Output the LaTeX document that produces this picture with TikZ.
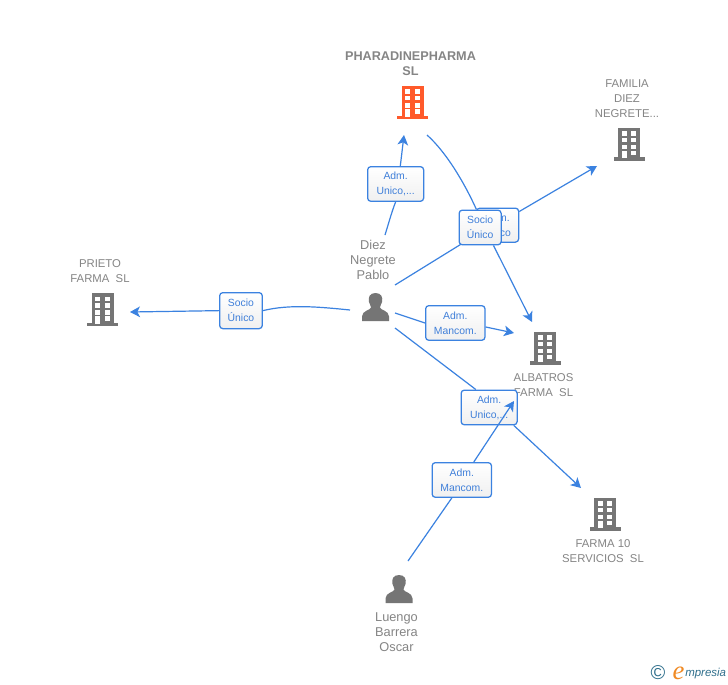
\documentclass[tikz,border=0pt]{standalone}
\usepackage{fontspec}
\setmainfont{Liberation Sans}
\newfontfamily\logoserif{Liberation Serif}
\usetikzlibrary{arrows.meta,shadings}
\definecolor{lnk}{HTML}{3B82E0}
\definecolor{lbl}{HTML}{3F7FD9}
\definecolor{nm}{HTML}{858585}
\definecolor{ico}{HTML}{757575}
\definecolor{org}{HTML}{FF5A2B}
\definecolor{teal}{HTML}{2F6F8C}
\definecolor{eor}{HTML}{F08A24}
\tikzset{
 x=0.75pt,y=-0.75pt,
 conn/.style={draw=lnk,line width=0.9pt},
 arr/.style={conn,-{Stealth[length=7.5pt,width=8pt,inset=2pt]}},
 tag/.style={draw=lnk,line width=0.95pt,rounded corners=2.4pt,top color=white,bottom color=white!94!black,
   text=lbl,font=\fontsize{7.8}{11.25}\selectfont,align=center,inner sep=0pt,anchor=north west},
 nametext/.style={text=nm,font=\fontsize{8.5}{11.25}\selectfont,align=center,inner sep=0pt},
 persontext/.style={nametext,font=\fontsize{9.6}{11.25}\selectfont},
 building/.pic={
   \fill[pic actions] (-11,-16.5) rectangle (11,14);
   \fill[pic actions] (-15.5,13) rectangle (15.5,16.5);
   \foreach \yy in {-13,-6.5,0.5}{
     \fill[white] (-7.5,\yy) rectangle (-2.5,\yy+4.5);
     \fill[white] (2,\yy) rectangle (7,\yy+4.5);}
   \fill[white] (-7.5,6.5) rectangle (-2.5,14);
   \fill[white] (2,6.5) rectangle (7,11);
 },
 person/.pic={
   \fill[pic actions] (0,-14.5) .. controls (6,-14.5) and (7.5,-10) .. (6.5,-5.5)
      .. controls (6,-3) and (4.5,-2) .. (4.5,0) .. controls (4.5,2.5) and (13.5,3) .. (13.5,9)
      -- (13.5,13.5) -- (-13.5,13.5) -- (-13.5,9) .. controls (-13.5,3) and (-4.5,2.5) .. (-4.5,0)
      .. controls (-4.5,-2) and (-6,-3) .. (-6.5,-5.5) .. controls (-7.5,-10) and (-6,-14.5) .. (0,-14.5) -- cycle;
 }
}
\begin{document}
\begin{tikzpicture}
\useasboundingbox[fill=white] (0,0) rectangle (728,685);

% icons
\pic[fill=org] at (412.5,102.5) {building};
\pic[fill=ico] at (629,144) {building};
\pic[fill=ico] at (102.5,309.5) {building};
\pic[fill=ico] at (545,348) {building};
\pic[fill=ico] at (605,514) {building};
\pic[fill=ico] at (375.5,307.5) {person};
\pic[fill=ico] at (399,589.5) {person};

% names
\node[nametext,font=\fontsize{9.5}{11.25}\selectfont\bfseries] (pharma) at (410.5,64) {PHARADINEPHARMA\\SL};
\node[nametext] (familia) at (627,98.5) {FAMILIA\\DIEZ\\NEGRETE...};
\node[nametext] (prieto) at (100,271) {PRIETO\\FARMA\ \ SL};
\node[nametext] (albatros) at (543.5,385) {ALBATROS\\FARMA\ \ SL};
\node[nametext] (farma10) at (603,551) {FARMA 10\\SERVICIOS\ \ SL};
\node[persontext] (diez) at (373,260) {Diez\\Negrete\\Pablo};
\node[persontext] (luengo) at (396.5,632) {Luengo\\Barrera\\Oscar};

% connector ends
\coordinate (pA) at (385,235);
\coordinate (pB) at (395,285);
\coordinate (pC) at (395,313);
\coordinate (pD) at (395,328);
\coordinate (pE) at (350,310);
\coordinate (lA) at (408,561);
\coordinate (oA) at (427,135);
\coordinate (eA) at (404,135);
\coordinate (eB) at (532,322);
\coordinate (eC) at (597,166);
\coordinate (eD) at (514,333);
\coordinate (eE) at (581,488);
\coordinate (eF) at (130,312);
\coordinate (eG) at (514,401);

% boxes
\node[tag,minimum width=31.5pt,minimum height=25.5pt] (tagF) at (476,207.5) {Adm.\\Unico};
\node[tag,minimum width=42pt,minimum height=26pt] (tagA) at (367,166) {Adm.\\Unico,...};
\node[tag,minimum width=31.5pt,minimum height=26pt] (tagS) at (458.5,209.5) {Socio\\Único};
\node[tag,minimum width=44.5pt,minimum height=26pt] (tagM) at (425,305) {Adm.\\Mancom.};
\node[tag,minimum width=42pt,minimum height=26pt] (tagU) at (460.5,389.5) {Adm.\\Unico,...};
\node[tag,minimum width=44.5pt,minimum height=26pt] (tagL) at (431.5,462) {Adm.\\Mancom.};
\node[tag,minimum width=32pt,minimum height=27pt] (tagP) at (219,292) {Socio\\Único};

% connectors
\draw[conn] (pA) .. controls (389,222) and (392,211) .. (tagA.south);
\draw[arr] ([xshift=3.5pt]tagA.north) -- (eA);
\draw[conn] (oA) .. controls (446,152) and (464,182) .. ([xshift=-19pt]tagS.north east);
\draw[arr] ([xshift=10pt]tagS.south) -- (eB);
\draw[conn] (pB) -- ([xshift=2pt,yshift=1pt]tagS.south west);
\draw[arr] ([yshift=-3pt]tagF.north east) -- (eC);
\draw[conn] (pC) -- (tagM.west);
\draw[arr] ([yshift=-3pt]tagM.east) -- (eD);
\draw[conn] (pD) -- ([xshift=-10pt]tagU.north);
\draw[arr] ([xshift=-3pt]tagU.south east) -- (eE);
\draw[conn] (lA) -- ([xshift=-7.5pt]tagL.south);
\draw[arr] ([xshift=9pt]tagL.north) -- (eG);
\draw[conn] (pE) .. controls (320,307) and (290,304) .. (tagP.east);
\draw[arr] (tagP.west) -- (eF);

% logo
\node[inner sep=0pt,text=teal,font=\fontsize{15}{15}\selectfont] (copy) at (658,673) {©};
\node[inner sep=0pt,text=eor,font=\fontsize{20}{20}\logoserif\itshape] (loge) at (678.5,673) {e};
\node[inner sep=0pt,text=teal,anchor=west,font=\fontsize{8.6}{10}\selectfont\itshape] (logt) at (685,674) {mpresia};
\end{tikzpicture}
\end{document}
